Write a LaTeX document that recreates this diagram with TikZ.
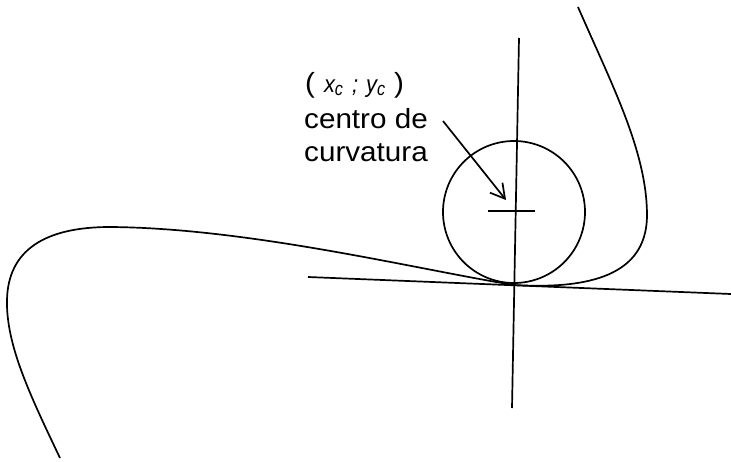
\documentclass[tikz,border=0pt]{standalone}
\usepackage{fontspec}
\setmainfont{Liberation Sans}[FakeStretch=1.07]
\usetikzlibrary{arrows.meta}
\newcommand{\itx}[1]{\scalebox{0.85}[1]{\fontsize{24}{24}\selectfont\itshape #1}}
\newcommand{\itsub}[1]{\raisebox{-3pt}{\scalebox{0.8}[1]{\fontsize{19}{19}\selectfont\itshape #1}}}
\begin{document}
\begin{tikzpicture}[x=1pt,y=-1pt,
  curve/.style={line width=1.7pt},
  lbl/.style={anchor=base west,inner sep=0pt,font=\fontsize{27.7}{33}\selectfont}]
\useasboundingbox (0,0) rectangle (731,461);
% key points
\coordinate (T) at (514,285);
\coordinate (C) at (514,212);
\coordinate (tanA) at (308,277);
\coordinate (tanB) at (731,294);
\coordinate (norA) at (519,38);
\coordinate (norB) at (512,408);
\coordinate (crossA) at (488,211);
\coordinate (crossB) at (535,211);
\coordinate (arrS) at (443,121);
\coordinate (arrE) at (506,200);
% circle
\draw[curve] (C) circle[radius=71];
% tangent and normal
\draw[curve] (tanA) -- (tanB);
\draw[curve] (norA) -- (norB);
\draw[curve] (crossA) -- (crossB);
% curve
\draw[curve] (60,458) .. controls (30,395) and (6,345) .. (7,300)
  .. controls (8,250) and (45,227) .. (110,227)
  .. controls (250,228) and (420,270) .. (T)
  .. controls (600,290) and (648,270) .. (647,213)
  .. controls (646,150) and (612,85) .. (578,7);
% arrow
\draw[curve,-{Straight Barb[length=14pt,width=16pt,line width=1.7pt]}] (arrS) -- (arrE);
% labels
\node[lbl] (l1) at (305,92) {(\hspace{9pt}\itx{x}\itsub{c}\hspace{9pt}\itx{;}\hspace{8pt}\itx{y}\itsub{c}\hspace{9pt})};
\node[lbl] (l2) at (304,128.5) {centro de};
\node[lbl] (l3) at (304,161) {curvatura};
\end{tikzpicture}
\end{document}
